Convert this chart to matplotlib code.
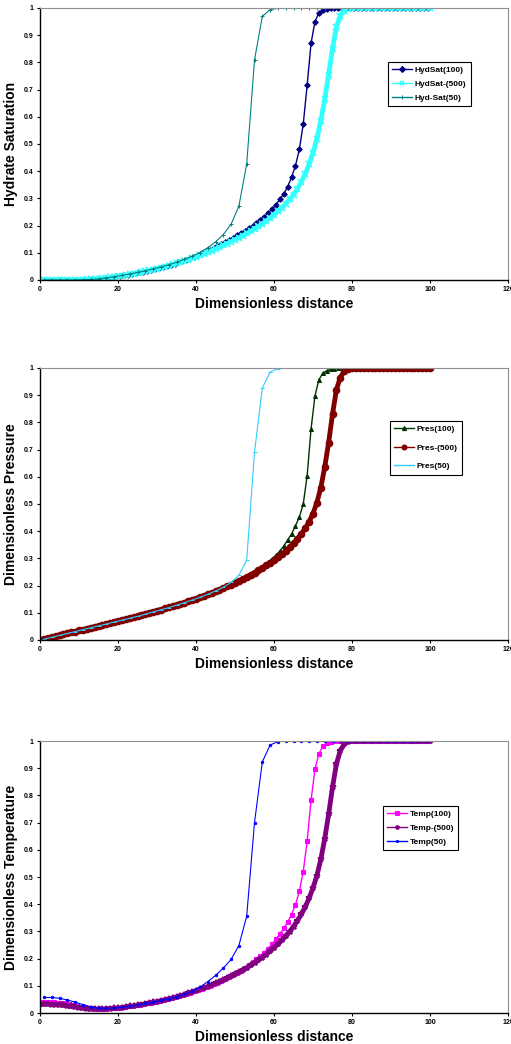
# three stacked Excel-style profiles vs dimensionless distance

import numpy as np
import matplotlib.pyplot as plt
from matplotlib.ticker import FuncFormatter

plt.rcParams['font.family'] = ['Liberation Sans', 'DejaVu Sans']
plt.rcParams['font.weight'] = 'bold'

# grids of the three runs
x50 = np.arange(1, 100, 2)
x100 = np.arange(0.5, 100, 1)
x500 = np.arange(0, 101, 1)

# ---- hydrate saturation ----
hyd100 = [0, 0, 0, 0, 0, 0, 0, 0, 0, 0,
          0.001, 0.001, 0.002, 0.003, 0.004, 0.005, 0.007, 0.009, 0.011, 0.013,
          0.015, 0.017, 0.020, 0.022, 0.025, 0.028, 0.031, 0.034, 0.037, 0.041,
          0.044, 0.048, 0.052, 0.056, 0.060, 0.065, 0.070, 0.075, 0.080, 0.086,
          0.092, 0.098, 0.104, 0.111, 0.118, 0.125, 0.132, 0.140, 0.148, 0.156,
          0.164, 0.172, 0.181, 0.190, 0.200, 0.210, 0.221, 0.233, 0.246, 0.260,
          0.277, 0.296, 0.317, 0.343, 0.378, 0.420, 0.480, 0.573, 0.716, 0.870,
          0.950, 0.982, 0.993, 0.997, 0.999] + [1.0] * 25
hyd500 = [0] * 11 + [
          0.001, 0.002, 0.003, 0.004, 0.005, 0.006, 0.008, 0.010, 0.012, 0.014,
          0.016, 0.018, 0.021, 0.023, 0.026, 0.029, 0.032, 0.035, 0.038, 0.042,
          0.045, 0.049, 0.053, 0.057, 0.061, 0.066, 0.070, 0.075, 0.080, 0.085,
          0.091, 0.096, 0.102, 0.108, 0.114, 0.120, 0.127, 0.134, 0.141, 0.148,
          0.155, 0.163, 0.171, 0.179, 0.188, 0.197, 0.207, 0.217, 0.228, 0.240,
          0.252, 0.265, 0.280, 0.296, 0.314, 0.335, 0.360, 0.390, 0.425, 0.468,
          0.520, 0.585, 0.665, 0.755, 0.850, 0.930, 0.972, 0.990, 0.997, 1.0] + [1.0] * 20
hyd50 = [0, 0, 0, 0, 0, 0.001, 0.002, 0.004, 0.008, 0.012,
         0.017, 0.022, 0.028, 0.034, 0.041, 0.048, 0.056, 0.065, 0.076, 0.087,
         0.101, 0.119, 0.140, 0.167, 0.205, 0.272, 0.426, 0.809, 0.969, 0.994,
         0.999] + [1.0] * 19

# ---- pressure ----
pres100 = [0.002, 0.005, 0.009, 0.012, 0.016, 0.019, 0.023, 0.026, 0.030, 0.033,
           0.037, 0.040, 0.044, 0.047, 0.051, 0.054, 0.058, 0.061, 0.065, 0.068,
           0.072, 0.075, 0.079, 0.083, 0.086, 0.090, 0.094, 0.098, 0.102, 0.106,
           0.110, 0.114, 0.118, 0.122, 0.126, 0.131, 0.135, 0.140, 0.145, 0.150,
           0.155, 0.160, 0.165, 0.171, 0.177, 0.183, 0.189, 0.196, 0.203, 0.210,
           0.217, 0.224, 0.232, 0.240, 0.248, 0.257, 0.266, 0.276, 0.287, 0.299,
           0.312, 0.327, 0.345, 0.368, 0.390, 0.420, 0.452, 0.500, 0.604, 0.776,
           0.897, 0.957, 0.980, 0.990, 0.995, 0.998] + [1.0] * 24
pres500 = [0.0, 0.003, 0.007, 0.010, 0.014, 0.017, 0.021, 0.024, 0.028, 0.031, 0.035,
           0.038, 0.042, 0.045, 0.049, 0.052, 0.056, 0.059, 0.063, 0.066, 0.070,
           0.073, 0.077, 0.081, 0.084, 0.088, 0.092, 0.096, 0.100, 0.104, 0.108,
           0.112, 0.116, 0.120, 0.124, 0.128, 0.133, 0.137, 0.142, 0.147, 0.152,
           0.157, 0.162, 0.168, 0.173, 0.179, 0.185, 0.191, 0.198, 0.204, 0.211,
           0.218, 0.225, 0.232, 0.240, 0.248, 0.256, 0.265, 0.274, 0.284, 0.294,
           0.305, 0.316, 0.328, 0.341, 0.356, 0.372, 0.390, 0.410, 0.435, 0.465,
           0.505, 0.560, 0.635, 0.725, 0.830, 0.920, 0.965, 0.988, 0.997, 1.0] + [1.0] * 20
pres50 = [0.003, 0.010, 0.017, 0.024, 0.031, 0.038, 0.045, 0.052, 0.059, 0.066,
          0.073, 0.080, 0.087, 0.095, 0.103, 0.111, 0.119, 0.128, 0.137, 0.147,
          0.157, 0.168, 0.180, 0.194, 0.212, 0.238, 0.293, 0.690, 0.926, 0.985,
          0.998] + [1.0] * 19

# ---- temperature ----
temp100 = [0.040, 0.040, 0.040, 0.039, 0.038, 0.037, 0.035, 0.032, 0.029, 0.026,
           0.023, 0.020, 0.018, 0.017, 0.016, 0.016, 0.016, 0.017, 0.018, 0.019,
           0.020, 0.022, 0.024, 0.026, 0.028, 0.030, 0.033, 0.035, 0.038, 0.041,
           0.044, 0.047, 0.050, 0.054, 0.058, 0.062, 0.066, 0.070, 0.075, 0.080,
           0.085, 0.090, 0.095, 0.100, 0.106, 0.112, 0.118, 0.125, 0.132, 0.139,
           0.147, 0.156, 0.165, 0.175, 0.186, 0.197, 0.209, 0.222, 0.237, 0.254,
           0.272, 0.291, 0.311, 0.334, 0.362, 0.398, 0.447, 0.520, 0.632, 0.782,
           0.896, 0.953, 0.980, 0.991, 0.996, 0.999] + [1.0] * 24
temp500 = [0.032, 0.032, 0.032, 0.031, 0.031, 0.030, 0.028, 0.026, 0.024, 0.022, 0.020,
           0.018, 0.016, 0.015, 0.014, 0.014, 0.014, 0.015, 0.016, 0.017, 0.018,
           0.020, 0.022, 0.024, 0.026, 0.028, 0.031, 0.033, 0.036, 0.039, 0.042,
           0.045, 0.048, 0.052, 0.055, 0.059, 0.063, 0.067, 0.072, 0.077, 0.082,
           0.087, 0.092, 0.097, 0.103, 0.109, 0.115, 0.121, 0.128, 0.135, 0.142,
           0.150, 0.158, 0.166, 0.175, 0.184, 0.194, 0.204, 0.215, 0.227, 0.240,
           0.253, 0.267, 0.282, 0.299, 0.318, 0.339, 0.363, 0.390, 0.422, 0.460,
           0.505, 0.565, 0.640, 0.730, 0.830, 0.915, 0.965, 0.988, 0.997, 1.0] + [1.0] * 20
temp50 = [0.057, 0.057, 0.054, 0.048, 0.040, 0.031, 0.023, 0.018, 0.017, 0.018,
          0.021, 0.025, 0.030, 0.035, 0.040, 0.046, 0.053, 0.060, 0.069, 0.080,
          0.095, 0.115, 0.138, 0.165, 0.197, 0.248, 0.356, 0.700, 0.923, 0.985,
          0.998] + [1.0] * 19

ylabels = ['Hydrate Saturation', 'Dimensionless Pressure', 'Dimensionless Temperature']
names = [['HydSat(100)', 'HydSat-(500)', 'Hyd-Sat(50)'],
         ['Pres(100)', 'Pres-(500)', 'Pres(50)'],
         ['Temp(100)', 'Temp-(500)', 'Temp(50)']]
colors = [['#000080', '#33ffff', '#008080'],
          ['#003300', '#800000', '#33ccff'],
          ['#ff00ff', '#800080', '#0000ff']]
markers = [['D', 'x', '+'], ['^', 'o', '_'], ['s', '*', '.']]
series = [[hyd100, hyd500, hyd50], [pres100, pres500, pres50], [temp100, temp500, temp50]]

W, H = 511, 1044
fig = plt.figure(figsize=(W / 100, H / 100), dpi=100)
tops = [8, 368, 741]
leg_pos = [(0.744, 0.801, 0.75), (0.748, 0.805, 1.3), (0.733, 0.762, 0.75)]

fmt = FuncFormatter(lambda v, p: ('%g' % round(v, 2)))

for i in range(3):
    top = tops[i]
    ax = fig.add_axes([40 / W, 1 - (top + 272) / H, 468 / W, 272 / H])
    s100, s500, s50 = series[i]
    c = colors[i]
    m = markers[i]
    ax.plot(x100, s100, color=c[0], lw=1.0, marker=m[0], ms=2.8, mew=0.8,
            label=names[i][0])
    ax.plot(x500, s500, color=c[1], lw=3.5, marker=m[1], ms=4.2, mew=1.3,
            label=names[i][1])
    ax.plot(x50, s50, color=c[2], lw=0.8, marker=m[2], ms=3.5, mew=0.7,
            label=names[i][2])

    ax.set_xlim(0, 120)
    ax.set_ylim(0, 1)
    ax.set_xticks(np.arange(0, 121, 20))
    ax.set_yticks(np.arange(0, 1.01, 0.1))
    ax.xaxis.set_major_formatter(fmt)
    ax.yaxis.set_major_formatter(fmt)
    ax.tick_params(direction='out', length=2.5, width=0.8, labelsize=5, pad=2)
    for sp in ['top', 'right']:
        ax.spines[sp].set_color('#909090')
        ax.spines[sp].set_linewidth(0.8)
    for sp in ['left', 'bottom']:
        ax.spines[sp].set_linewidth(1.0)

    ax.set_xlabel('Dimensionless distance', fontsize=10, fontweight='bold', labelpad=3)
    ax.set_ylabel(ylabels[i], fontsize=10, fontweight='bold', labelpad=4)

    lx, ly, sp_ = leg_pos[i]
    leg = ax.legend(loc='upper left', bbox_to_anchor=(lx, ly), fontsize=6,
                    fancybox=False, edgecolor='black', framealpha=1,
                    handlelength=2.4, handletextpad=0.3, labelspacing=sp_,
                    borderpad=0.5, borderaxespad=0)
    leg.get_frame().set_linewidth(0.8)
    for h in leg.legend_handles:
        h.set_linewidth(1.0)
        h.set_markersize(3)

plt.savefig('out.png', dpi=100)
